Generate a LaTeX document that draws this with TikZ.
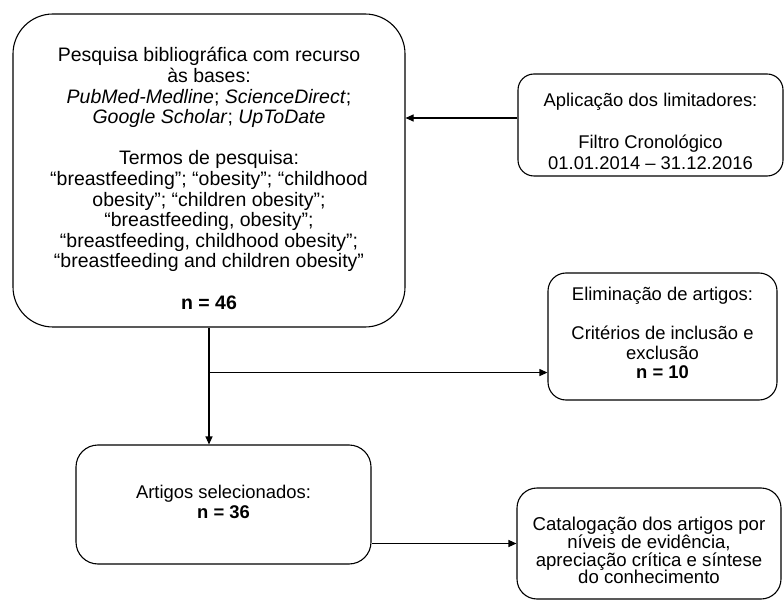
\documentclass[tikz,border=0pt]{standalone}
\usepackage{fontspec}
\setmainfont{Liberation Sans}
\usetikzlibrary{arrows.meta}

\begin{document}
\begin{tikzpicture}[x=1pt, y=-1pt, >={Triangle[length=8pt,width=7pt]},
  caixa/.style={draw, line width=1.1pt, align=center, inner sep=0pt,
    font=\fontsize{18.4}{20}\selectfont},
  seta/.style={->, line width=1.1pt}]
  \useasboundingbox (0,0) rectangle (784,601);

  \node[caixa, rounded corners=40pt, minimum width=392pt, minimum height=313pt,
    font=\fontsize{19.5}{20.6}\selectfont] (busca) at (209,170.5)
    {\rule{0pt}{30pt}Pesquisa bibliográfica com recurso\\ às bases:\\
     \textit{PubMed-Medline}; \textit{ScienceDirect};\\
     \textit{Google Scholar}; \textit{UpToDate}\\[20.6pt]
     Termos de pesquisa:\\
     “breastfeeding”; “obesity”; “childhood\\
     obesity”; “children obesity”;\\
     “breastfeeding, obesity”;\\
     “breastfeeding, childhood obesity”;\\
     “breastfeeding and children obesity”\\[20.6pt]
     \textbf{n = 46}};
  \node[caixa, rounded corners=16pt, minimum width=265pt, minimum height=102pt,
    font=\fontsize{18.4}{21}\selectfont] (limit) at (650.5,125)
    {\rule{0pt}{26.5pt}Aplicação dos limitadores:\\[21pt] Filtro Cronológico\\ 01.01.2014 – 31.12.2016};
  \node[caixa, rounded corners=18pt, minimum width=229pt, minimum height=127pt,
    font=\fontsize{18.4}{19.5}\selectfont] (elim) at (662.5,336.5)
    {Eliminação de artigos:\\[19.5pt] Critérios de inclusão e\\ exclusão\\ \textbf{n = 10}\rule[-7pt]{0pt}{7pt}};
  \node[caixa, rounded corners=22pt, minimum width=295pt, minimum height=119pt] (sel) at (223.5,504.5)
    {Artigos selecionados:\\ \textbf{n = 36}\rule[-5pt]{0pt}{5pt}};
  \node[caixa, rounded corners=20pt, minimum width=264pt, minimum height=111pt,
    font=\fontsize{18.6}{17.7}\selectfont] (catal) at (649,543.5)
    {\rule{0pt}{27.5pt}Catalogação dos artigos por\\ níveis de evidência,\\ apreciação crítica e síntese\\ do conhecimento};

  \coordinate (ramo) at ([yshift=-45pt]busca.south);
  \draw[seta] ([yshift=7pt]limit.west) -- ([yshift=7pt]limit.west -| busca.east);
  \draw[seta] (busca.south) -- (busca.south |- sel.north);
  \draw[seta] (ramo) -- (ramo -| elim.west);
  \draw[seta] (catal.west -| sel.east) -- (catal.west);
\end{tikzpicture}
\end{document}
